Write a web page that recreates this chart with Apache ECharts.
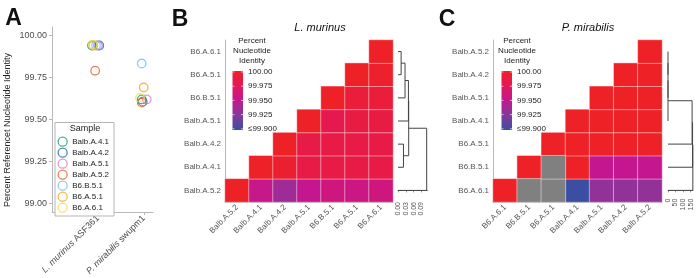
<!DOCTYPE html>
<html><head><meta charset="utf-8">
<script src="https://cdn.jsdelivr.net/npm/echarts@6/dist/echarts.min.js"></script>
<style>html,body{margin:0;padding:0;background:#fff}#c{width:700px;height:278px}</style>
</head><body><div id="c"></div>
<script>
const FONT = 'Liberation Sans, Arial, sans-serif';

// ---------- Panel A data ----------
const samples = ['Balb.A.4.1','Balb.A.4.2','Balb.A.5.1','Balb.A.5.2','B6.B.5.1','B6.A.5.1','B6.A.6.1'];
const sampleColors = ['#1b9e77','#2468b0','#e07bc0','#e4612c','#6cc4ec','#f5a52c','#eee04a'];
const speciesA = ['L. murinus ASF361','P. mirabilis swupm1'];
const identityLmur = [99.94, 99.94, 99.94, 99.79, 99.94, 99.94, 99.945];
const jitterLmur   = [0.87, 1.03, 1.00, 0.94, 0.96, 0.90, 0.89];
const identityPmir = [99.619, 99.606, 99.619, 99.600, 99.833, 99.690, 99.629];
const jitterPmir   = [1.954, 1.976, 2.063, 1.954, 1.954, 1.998, 1.917];
const yTicksA = [99.00, 99.25, 99.50, 99.75, 100.00];

// ---------- Panel B data ----------
const namesB = ['Balb.A.5.2','Balb.A.4.1','Balb.A.4.2','Balb.A.5.1','B6.B.5.1','B6.A.5.1','B6.A.6.1'];
// row r (bottom to top) holds identities with columns r..6
const pidB = [
  [100, 99.952, 99.935, 99.950, 99.958, 99.955, 99.958],
  [100, 99.995, 99.985, 99.985, 99.985, 99.985],
  [100, 99.985, 99.985, 99.985, 99.985],
  [100, 99.980, 99.987, 99.987],
  [100, 99.990, 99.990],
  [100, 99.997],
  [100]
];
const dendroB = [
  ['B6.A.6.1','B6.A.5.1',0.012],
  [0,'B6.B.5.1',0.027],
  [1,'Balb.A.5.1',0.040],
  ['Balb.A.4.2','Balb.A.4.1',0.021],
  [2,3,0.041],
  [4,'Balb.A.5.2',0.110]
];
const dendroTicksB = [0, 0.03, 0.06, 0.09];

// ---------- Panel C data ----------
const namesC = ['B6.A.6.1','B6.B.5.1','B6.A.5.1','Balb.A.4.1','Balb.A.5.1','Balb.A.4.2','Balb.A.5.2'];
const pidC = [
  [100, null, null, 99.89, 99.93, 99.93, 99.93],
  [100, null, 100, 99.95, 99.95, 99.95],
  [100, 100, 100, 100, 100],
  [100, 100, 100, 100],
  [100, 100, 100],
  [100, 100],
  [100]
];
const dendroC = [
  ['Balb.A.5.2','Balb.A.4.2',0],
  [0,'Balb.A.5.1',0],
  [1,'Balb.A.4.1',0],
  [2,'B6.A.5.1',160],
  [3,'B6.B.5.1',163],
  [4,'B6.A.6.1',165]
];
const dendroTicksC = [0, 50, 100, 150];

// ---------- colour scale ----------
const scaleMin = 99.9, scaleMax = 100;
const scaleColors = ['#3b4ea1','#85399a','#c4178f','#e3175a','#ee2127'];
const colorbarLabels = ['100.00','99.975','99.950','99.925','\u226499.900'];

// ---------- builders ----------
function heatData(pid) {
  const d = [], na = [];
  pid.forEach((row, r) => row.forEach((v, k) => {
    const c = r + k;
    if (v === null) na.push([c, r, 0]);
    else d.push([c, r, Math.max(scaleMin, Math.min(scaleMax, v)), v]);
  }));
  return {d, na};
}
function dendroLines(merges, names) {
  const leaf = {}; names.forEach((n, i) => leaf[n] = {y: i, h: 0});
  const nodes = [], out = [];
  merges.forEach(([a, b, h]) => {
    const A = typeof a === 'number' ? nodes[a] : leaf[a];
    const B = typeof b === 'number' ? nodes[b] : leaf[b];
    out.push({coords: [[A.h, A.y], [h, A.y], [h, B.y], [B.h, B.y]]});
    nodes.push({y: (A.y + B.y) / 2, h});
  });
  return out;
}
const hb = heatData(pidB), hc = heatData(pidC);

const axisGray = '#b8b8b8', labelGray = '#555';

function catAxes(grid, names) {
  return [{
    type: 'category', gridIndex: grid, data: names,
    axisLine: {lineStyle: {color: axisGray}},
    axisTick: {alignWithLabel: true, length: 3, lineStyle: {color: axisGray}},
    axisLabel: {rotate: 45, fontSize: 8, color: labelGray, fontFamily: FONT, margin: 4, interval: 0},
    splitLine: {show: false}
  }, {
    type: 'category', gridIndex: grid, data: names,
    axisLine: {lineStyle: {color: axisGray}},
    axisTick: {alignWithLabel: true, length: 3, lineStyle: {color: axisGray}},
    axisLabel: {fontSize: 8, color: labelGray, fontFamily: FONT, margin: 4, interval: 0},
    splitLine: {show: false}
  }];
}
function dendroAxes(grid, max, ymin, ticks, fmt) {
  return [{
    type: 'value', gridIndex: grid, min: 0, max: max,
    axisLine: {show: true, lineStyle: {color: '#999'}},
    axisTick: {show: true, customValues: ticks, length: 2, lineStyle: {color: '#999'}},
    axisLabel: {customValues: ticks, rotate: 90, fontSize: 7, color: labelGray, fontFamily: FONT, margin: 3, formatter: fmt},
    splitLine: {show: false}
  }, {
    type: 'value', gridIndex: grid, min: ymin, max: 6.5, show: false
  }];
}

const [xB, yB] = catAxes(1, namesB);
const [xDB, yDB] = dendroAxes(2, 0.115, -0.37, dendroTicksB, v => v.toFixed(2));
const [xC, yC] = catAxes(3, namesC);
const [xDC, yDC] = dendroAxes(4, 166, -0.23, dendroTicksC, v => String(v));

// ---------- series ----------
const series = samples.map((s, i) => ({
  type: 'scatter', name: s, xAxisIndex: 0, yAxisIndex: 0,
  data: [[jitterLmur[i], identityLmur[i]], [jitterPmir[i], identityPmir[i]]],
  symbol: 'circle', symbolSize: 8.5,
  itemStyle: {color: 'rgba(0,0,0,0)', borderColor: sampleColors[i], borderWidth: 1.3}
}));
const cellStyle = {borderColor: 'rgba(255,255,255,0.55)', borderWidth: 0.8};
series.push({type: 'heatmap', xAxisIndex: 1, yAxisIndex: 1, data: hb.d, itemStyle: cellStyle}); // 7
series.push({type: 'lines', coordinateSystem: 'cartesian2d', xAxisIndex: 2, yAxisIndex: 2, polyline: true,
  data: dendroLines(dendroB, namesB), lineStyle: {color: '#444', width: 1, opacity: 1}, silent: true}); // 8
series.push({type: 'heatmap', xAxisIndex: 3, yAxisIndex: 3, data: hc.d, itemStyle: cellStyle}); // 9
series.push({type: 'heatmap', xAxisIndex: 3, yAxisIndex: 3, data: hc.na,
  itemStyle: Object.assign({color: '#808080'}, cellStyle)}); // 10
series.push({type: 'lines', coordinateSystem: 'cartesian2d', xAxisIndex: 4, yAxisIndex: 4, polyline: true,
  data: dendroLines(dendroC, namesC), lineStyle: {color: '#444', width: 1, opacity: 1}, silent: true}); // 11

// ---------- graphic: titles, legend box, colorbars ----------
const graphic = [];
function txt(x, y, text, font, opts) {
  graphic.push(Object.assign({type: 'text', x, y, silent: true,
    style: Object.assign({text, font, fill: '#111', textAlign: 'center', textVerticalAlign: 'middle'}, opts || {})}));
}
txt(13.5, 19, 'A', 'bold 23px ' + FONT);
txt(180, 20, 'B', 'bold 23px ' + FONT);
txt(447, 20, 'C', 'bold 23px ' + FONT);
txt(320, 28, 'L. murinus', 'italic 11px ' + FONT);
txt(588, 28, 'P. mirabilis', 'italic 11px ' + FONT);
graphic.push({type: 'text', x: 8, y: 130, rotation: Math.PI / 2, silent: true,
  style: {text: 'Percent Referencet Nucleotide Identity', font: '9px ' + FONT, fill: '#222',
    textAlign: 'center', textVerticalAlign: 'middle'}});
// legend box for panel A
graphic.push({type: 'rect', shape: {x: 55, y: 122.5, width: 59, height: 93.5}, z: 5, silent: true,
  style: {fill: '#fff', stroke: '#b5b5b5', lineWidth: 1}});
graphic.push({type: 'text', x: 85, y: 129, z: 6, silent: true,
  style: {text: 'Sample', font: '9px ' + FONT, fill: '#222', textAlign: 'center', textVerticalAlign: 'middle'}});

function colorbar(cx, barX) {
  ['Percent', 'Nucleotide', 'Identity'].forEach((t, i) =>
    txt(cx, 41 + i * 10, t, '8px ' + FONT, {fill: '#222'}));
  const top = 71, h = 59, w = 10.5;
  graphic.push({type: 'rect', shape: {x: barX, y: top, width: w, height: h}, silent: true,
    style: {fill: new echarts.graphic.LinearGradient(0, 1, 0, 0,
      scaleColors.map((c, i) => ({offset: i / (scaleColors.length - 1), color: c})))}});
  colorbarLabels.forEach((lab, i) => {
    const y = 72 + i * 14.2;
    graphic.push({type: 'line', silent: true, shape: {x1: barX, y1: y, x2: barX + 2, y2: y},
      style: {stroke: 'rgba(255,255,255,0.8)', lineWidth: 0.8}});
    graphic.push({type: 'line', silent: true, shape: {x1: barX + w - 2, y1: y, x2: barX + w, y2: y},
      style: {stroke: 'rgba(255,255,255,0.8)', lineWidth: 0.8}});
    txt(barX + w + 5, y, lab, '8px ' + FONT, {fill: '#222', textAlign: 'left'});
  });
}
colorbar(252, 232.5);
colorbar(517, 501.5);

const option = {
  animation: false,
  textStyle: {fontFamily: FONT},
  grid: [
    {left: 52, top: 27, width: 101, height: 191},
    {left: 225, top: 40, width: 168, height: 162},
    {left: 398, top: 40, width: 30, height: 159},
    {left: 493, top: 40, width: 169, height: 162},
    {left: 668, top: 40, width: 25, height: 155.7}
  ],
  xAxis: [
    {type: 'value', gridIndex: 0, min: 0, max: 2.2,
      axisLine: {show: true, lineStyle: {color: axisGray}},
      axisTick: {show: true, customValues: [1, 2], length: 3, lineStyle: {color: axisGray}},
      axisLabel: {customValues: [1, 2], rotate: 45, fontSize: 9, color: '#4d4d4d', margin: 5,
        formatter: v => {
          const parts = speciesA[Math.round(v) - 1].split(' ');
          return '{i|' + parts[0] + ' ' + parts[1] + '} ' + parts[2];
        },
        rich: {i: {fontStyle: 'italic', fontSize: 9, color: '#4d4d4d', fontFamily: FONT}}},
      splitLine: {show: false}},
    xB, xDB, xC, xDC
  ],
  yAxis: [
    {type: 'value', gridIndex: 0, min: 98.95, max: 100.05,
      axisLine: {show: true, lineStyle: {color: axisGray}},
      axisTick: {show: true, customValues: yTicksA, length: 3, lineStyle: {color: axisGray}},
      axisLabel: {customValues: yTicksA, fontSize: 9, color: '#4d4d4d', margin: 5, formatter: v => v.toFixed(2)},
      splitLine: {show: false}},
    yB, yDB, yC, yDC
  ],
  legend: {
    orient: 'vertical', left: 57.5, top: 136.5, padding: 0, z: 7,
    itemWidth: 9, itemHeight: 9, itemGap: 0.7,
    textStyle: {fontSize: 8, color: '#222', fontFamily: FONT},
    selectedMode: false,
    data: samples.map((s, i) => ({name: s, icon: 'circle',
      itemStyle: {color: 'rgba(0,0,0,0)', borderColor: sampleColors[i], borderWidth: 1.3}}))
  },
  visualMap: [{type: 'continuous', show: false, min: scaleMin, max: scaleMax, dimension: 2,
    seriesIndex: [7, 9], inRange: {color: scaleColors}}],
  graphic: graphic,
  series: series
};
const chart = echarts.init(document.getElementById('c'), null, {renderer: 'canvas'});
chart.setOption(option);
</script></body></html>
